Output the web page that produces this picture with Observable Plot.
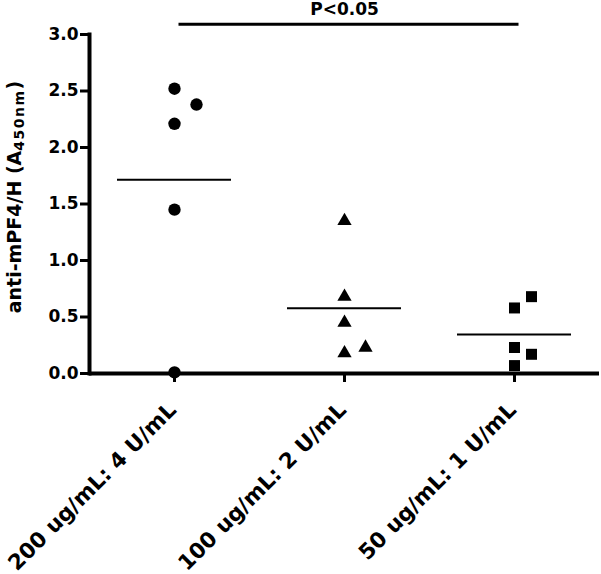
<!DOCTYPE html>
<html><head><meta charset="utf-8">
<script src="https://cdn.jsdelivr.net/npm/d3@7"></script>
<script src="https://cdn.jsdelivr.net/npm/@observablehq/plot@0.6"></script>
<style>body{margin:0;background:#fff} #chart svg{display:block}</style>
</head><body><div id="chart"></div>
<script>
// ---- data ----
const groups = ["200 ug/mL: 4 U/mL", "100 ug/mL: 2 U/mL", "50 ug/mL: 1 U/mL"];
const circleValues = [2.52, 2.38, 2.21, 1.45, 0.01];
const circleShifted = [0, 1, 0, 0, 0];
const triangleValues = [1.35, 0.68, 0.45, 0.18, 0.23];
const triangleShifted = [0, 0, 0, 0, 1];
const squareValues = [0.68, 0.58, 0.23, 0.17, 0.07];
const squareShifted = [1, 0, 0, 1, 0];
const yTicks = [0, 0.5, 1.0, 1.5, 2.0, 2.5, 3.0];
const yLabelParts = ["anti-mPF4/H (A", "450nm", ")"];
const pLabel = "P<0.05";
const pLevel = 3.09;

// ---- build table ----
const seriesValues = [circleValues, triangleValues, squareValues];
const seriesShifted = [circleShifted, triangleShifted, squareShifted];
const rows = groups.flatMap((g, gi) =>
  seriesValues[gi].map((v, i) => ({group: g, value: v, shifted: seriesShifted[gi][i]})));
const means = groups.map(g => ({group: g, mean: d3.mean(rows.filter(r => r.group === g), d => d.value)}));

// mark styling per group
const symbolStyle = [
  {symbol: "circle", r: 6.2, shift: 22},
  {symbol: "triangle", r: 5.3, shift: 21},
  {symbol: "square", r: 6.2, shift: 17}
];
const dotMarks = groups.flatMap((g, gi) => [
  Plot.dot(rows.filter(r => r.group === g && !r.shifted),
    {x: "group", y: "value", symbol: symbolStyle[gi].symbol, r: symbolStyle[gi].r, fill: "black"}),
  Plot.dot(rows.filter(r => r.group === g && r.shifted),
    {x: "group", y: "value", symbol: symbolStyle[gi].symbol, r: symbolStyle[gi].r, fill: "black", dx: symbolStyle[gi].shift})
]);

const chart = Plot.plot({
  width: 601,
  height: 574,
  marginLeft: 89,
  marginRight: 2,
  marginTop: 34,
  marginBottom: 201,
  style: {fontFamily: "DejaVu Sans", fontSize: "17px", fontWeight: "bold", color: "black", background: "white"},
  x: {type: "band", domain: groups, paddingInner: 0.33, paddingOuter: 0.165, axis: null},
  y: {domain: [0, 3], axis: null},
  marks: [
    Plot.ruleY([0], {strokeWidth: 4}),
    Plot.frame({anchor: "left", strokeWidth: 4}),
    Plot.axisY({ticks: yTicks, tickFormat: d3.format(".1f"), tickSize: 9, tickPadding: 2, strokeWidth: 3, label: null, fontSize: 17}),
    Plot.axisX({tickSize: 9, strokeWidth: 3, tickFormat: () => "", label: null}),
    Plot.text(groups, {x: d => d, frameAnchor: "bottom", rotate: -45, textAnchor: "end", lineAnchor: "middle", dx: -2, dy: 33, fontSize: 21.5}),
    Plot.tickY(means, {x: "group", y: "mean", strokeWidth: 2}),
    ...dotMarks,
    Plot.link([pLevel], {x1: () => groups[0], x2: () => groups[2], y1: d => d, y2: d => d, strokeWidth: 3, dx: 4}),
    Plot.text([pLabel], {x: () => groups[1], y: () => pLevel, dy: -15, fontSize: 17}),
    Plot.text([yLabelParts.join("")], {frameAnchor: "left", rotate: -90, textAnchor: "middle", lineAnchor: "middle", dx: -75, dy: -7, fontSize: 19})
  ]
});
document.getElementById("chart").appendChild(chart);

// subscript for the y label
d3.select(chart).selectAll("text").filter(function() { return this.textContent === yLabelParts.join(""); })
  .each(function() {
    const t = d3.select(this);
    t.text(null);
    t.append("tspan").text(yLabelParts[0]);
    t.append("tspan").attr("font-size", 14).attr("letter-spacing", 1.5).attr("dy", 3).text(yLabelParts[1]);
    t.append("tspan").attr("dy", -3).text(yLabelParts[2]);
  });
</script>
</body></html>
